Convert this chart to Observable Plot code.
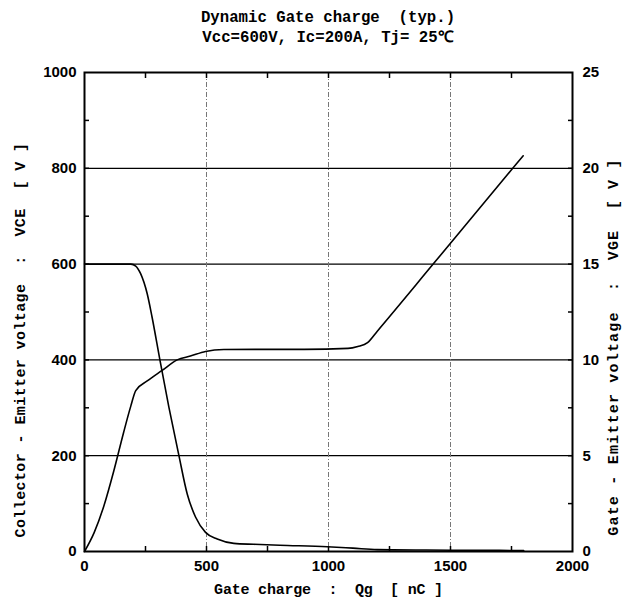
<!DOCTYPE html>
<html><head><meta charset="utf-8">
<script src="https://cdn.jsdelivr.net/npm/d3@7"></script>
<script src="https://cdn.jsdelivr.net/npm/@observablehq/plot@0.6"></script>
<style>
body{margin:0;background:#fff;}
#head{box-sizing:border-box;height:56px;width:624px;padding-top:8px;padding-left:32px;text-align:center;
 font-family:"Liberation Mono","DejaVu Sans Mono",monospace;font-weight:bold;font-size:15.7px;line-height:20px;white-space:pre;color:#000;}
</style></head>
<body>
<div id="head"><div id="t1"></div><div id="t2"></div></div>
<div id="chart"></div>
<script>
const title = "Dynamic Gate charge  (typ.)";
const subtitle = "Vcc=600V, Ic=200A, Tj= 25\u2103";
const xTitle = "Gate charge  :  Qg  [ nC ]";
const yLeftTitle = "Collector - Emitter voltage  :  VCE  [ V ]";
const yRightTitle = "Gate - Emitter voltage  :  VGE  [ V ]";

const xLabelTicks = [0, 500, 1000, 1500, 2000];
const xMinorTicks = [250, 500, 750, 1000, 1250, 1500, 1750];
const yLabelTicks = [0, 200, 400, 600, 800, 1000];
const yMinorTicks = [100, 200, 300, 400, 500, 600, 700, 800, 900];
const vgeScale = 40; // 25 V on right axis = 1000 V on left axis
const hGrid = [200, 400, 600, 800];
const vGrid = [500, 1000, 1500];

// VCE curve (left axis, V)
const qVce = [0, 100, 190, 210, 230, 257, 277, 309, 346, 387, 421, 455, 496, 544, 612, 694, 800, 995, 1100, 1200, 1400, 1600, 1800];
const vce  = [600, 600, 600, 596, 580, 538, 489, 400, 301, 200, 120, 72, 40, 26, 17, 15, 13, 10, 7, 4, 3, 2.5, 2];

// VGE curve (right axis, V)
const qVge = [0, 40, 80, 120, 160, 190, 210, 257, 318, 380, 434, 496, 571, 700, 900, 1080, 1120, 1160, 1200, 1429, 1755, 1798];
const vge  = [0, 1.0, 2.4, 4.2, 6.2, 7.6, 8.4, 8.9, 9.45, 10.0, 10.2, 10.44, 10.54, 10.55, 10.55, 10.6, 10.7, 10.9, 11.5, 15, 20, 20.65];

document.getElementById("t1").textContent = title;
document.getElementById("t2").textContent = subtitle;

const vceData = qVce.map((q, i) => ({q, v: vce[i]}));
const vgeData = qVge.map((q, i) => ({q, v: vge[i]}));

const sansFont = '"Liberation Sans","Arimo",sans-serif';
const monoFont = '"Liberation Mono","DejaVu Sans Mono",monospace';

const chart = Plot.plot({
  width: 624, height: 549,
  marginTop: 16, marginBottom: 54, marginLeft: 84, marginRight: 52,
  x: {domain: [0, 2000]},
  y: {domain: [0, 1000]},
  style: {fontFamily: sansFont, fontSize: "15px", fontWeight: "bold", background: "#fff", color: "#000", overflow: "visible"},
  marks: [
    Plot.ruleY(hGrid, {stroke: "#000", strokeWidth: 1.2}),
    Plot.ruleX(vGrid, {stroke: "#777", strokeWidth: 1, strokeDasharray: "5,2,1,2"}),
    Plot.line(vceData, {x: "q", y: "v", stroke: "#000", strokeWidth: 1.6, curve: "monotone-x"}),
    Plot.line(vgeData, {x: "q", y: d => d.v * vgeScale, stroke: "#000", strokeWidth: 1.6, curve: "monotone-x"}),
    Plot.axisX({ticks: xLabelTicks, tickSize: 0, tickPadding: 9, tickFormat: d => String(d), label: null}),
    Plot.axisX({ticks: xMinorTicks, tickSize: 5, dy: -5, fill: "none", label: null, strokeWidth: 1.5}),
    Plot.axisX({anchor: "top", ticks: xMinorTicks, tickSize: 5, dy: 5, fill: "none", label: null, strokeWidth: 1.5}),
    Plot.axisY({ticks: yLabelTicks, tickSize: 0, tickPadding: 8, tickFormat: d => String(d), label: null}),
    Plot.axisY({ticks: yMinorTicks, tickSize: 5, dx: 5, fill: "none", label: null, strokeWidth: 1.5}),
    Plot.axisY({anchor: "right", ticks: yLabelTicks, tickSize: 0, tickPadding: 10, tickFormat: d => String(d / vgeScale), label: null}),
    Plot.axisY({anchor: "right", ticks: yMinorTicks, tickSize: 5, dx: -5, fill: "none", label: null, strokeWidth: 1.5}),
    Plot.frame({stroke: "#000", strokeWidth: 2}),
    Plot.text([xTitle], {frameAnchor: "bottom", dy: 42, text: d => d, fontSize: 15, fontFamily: monoFont, textAnchor: "middle"}),
    Plot.text([yLeftTitle], {frameAnchor: "left", dx: -64, dy: 28, rotate: -90, text: d => d, fontSize: 15, fontFamily: monoFont, textAnchor: "middle"}),
    Plot.text([yRightTitle], {frameAnchor: "right", dx: 41, dy: 35, rotate: -90, text: d => d, fontSize: 15, fontFamily: monoFont, textAnchor: "middle"})
  ]
});
document.getElementById("chart").appendChild(chart);

// axis titles: keep repeated spaces and widen the lettering like the reference
const spacing = new Map([[xTitle, "-0.2px"], [yLeftTitle, "0.4px"], [yRightTitle, "1.2px"]]);
d3.select(chart).selectAll("text").each(function() {
  const t = this.textContent;
  if (spacing.has(t)) {
    d3.select(this).style("white-space", "pre").style("letter-spacing", spacing.get(t));
  }
});
</script>
</body></html>
